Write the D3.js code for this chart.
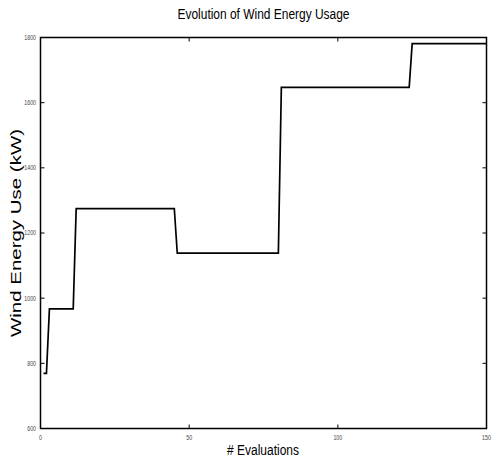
<!DOCTYPE html>
<html><head><meta charset="utf-8">
<script src="https://cdn.jsdelivr.net/npm/d3@7"></script>
<style>body{margin:0;background:#fff}svg{display:block}text{font-family:"Liberation Sans",Arial,sans-serif}</style>
</head><body>
<svg id="c" width="493" height="458"></svg>
<script>
const evalIdx = [1, 2, 3, 11, 12, 45, 46, 80, 81, 124, 125, 150];
const energy  = [769, 769, 967, 967, 1275, 1275, 1138, 1138, 1647, 1647, 1781, 1781];
const xTicks = [0, 50, 100, 150];
const yTicks = [600, 800, 1000, 1200, 1400, 1600, 1800];

const svg = d3.select("#c");
const L = 40.5, R = 486.5, T = 37.5, B = 428.5;
const x = d3.scaleLinear().domain([0, 150]).range([L, R]);
const y = d3.scaleLinear().domain([600, 1800]).range([B, T]);

// box
svg.append("rect").attr("x", L).attr("y", T).attr("width", R - L).attr("height", B - T)
  .attr("fill", "none").attr("stroke", "#000").attr("stroke-width", 1.5);

const tl = 4;
const g = svg.append("g").attr("stroke", "#000").attr("stroke-width", 1);
xTicks.forEach(t => {
  g.append("line").attr("x1", x(t)).attr("x2", x(t)).attr("y1", B).attr("y2", B - tl);
  g.append("line").attr("x1", x(t)).attr("x2", x(t)).attr("y1", T).attr("y2", T + tl);
});
yTicks.forEach(t => {
  g.append("line").attr("x1", L).attr("x2", L + tl).attr("y1", y(t)).attr("y2", y(t));
  g.append("line").attr("x1", R).attr("x2", R - tl).attr("y1", y(t)).attr("y2", y(t));
});

// tick labels
svg.append("g").selectAll("text").data(xTicks).join("text")
  .attr("x", d => x(d)).attr("y", 440).attr("text-anchor", "middle")
  .attr("font-size", 7).attr("fill", "#444")
  .attr("transform", d => `translate(${x(d)},0) scale(0.75,1) translate(${-x(d)},0)`)
  .text(d => d);
svg.append("g").selectAll("text").data(yTicks).join("text")
  .attr("x", 36).attr("y", d => y(d) + 2.5).attr("text-anchor", "end")
  .attr("font-size", 7).attr("fill", "#444")
  .attr("transform", "translate(36,0) scale(0.75,1) translate(-36,0)")
  .text(d => d);

// line
const line = d3.line().x((d, i) => x(evalIdx[i])).y(d => y(d));
svg.append("path").attr("d", line(energy)).attr("fill", "none")
  .attr("stroke", "#000").attr("stroke-width", 1.7).attr("stroke-linejoin", "miter");

// title & labels
svg.append("text").attr("x", 263.5).attr("y", 19).attr("text-anchor", "middle")
  .attr("font-size", 14).attr("textLength", 172).attr("lengthAdjust", "spacingAndGlyphs")
  .text("Evolution of Wind Energy Usage");
svg.append("text").attr("x", 263).attr("y", 455).attr("text-anchor", "middle")
  .attr("font-size", 14).attr("textLength", 72).attr("lengthAdjust", "spacingAndGlyphs")
  .text("# Evaluations");
svg.append("text").attr("transform", "translate(21,233) rotate(-90)").attr("text-anchor", "middle")
  .attr("font-size", 14).attr("textLength", 208).attr("lengthAdjust", "spacingAndGlyphs")
  .text("Wind Energy Use (kW)");
</script>
</body></html>
